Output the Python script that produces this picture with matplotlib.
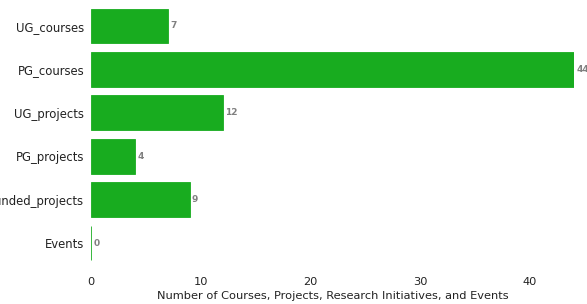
import matplotlib
matplotlib.use("Agg")
import matplotlib.pyplot as plt

categories = ["UG_courses", "PG_courses", "UG_projects", "PG_projects", "Funded_projects", "Events"]
values = [7, 44, 12, 4, 9, 0]
xticks = [0, 10, 20, 30, 40]
xlabel = "Number of Courses, Projects, Research Initiatives, and Events"

fig = plt.figure(figsize=(5.87, 3.04), dpi=100)
ax = fig.add_axes([91/587, 1 - 273/304, (574-91)/587, (273+4)/304])

ypos = list(range(len(categories)))
bars = ax.barh(ypos, values, height=0.8, color="#18ac1f", edgecolor="#18ac1f", linewidth=0.6)
ax.set_ylim(5.69, -0.69)
ax.set_xlim(0, 44)
ax.set_yticks(ypos)
ax.set_yticklabels(categories, fontsize=8.4, color="#222222")
ax.set_xticks(xticks)
ax.set_xticklabels([str(t) for t in xticks], fontsize=8.2, color="#222222")
ax.tick_params(length=0, pad=5)
ax.tick_params(axis="x", pad=3)
ax.set_xlabel(xlabel, fontsize=8.2, labelpad=3, color="#222222")
for s in ax.spines.values():
    s.set_visible(False)
for b, v in zip(bars, values):
    ax.text(b.get_width() + 0.2, b.get_y() + b.get_height()/2, str(v),
            va="center", ha="left", fontsize=6.5, color="#808080", fontweight="bold", clip_on=False)

fig.savefig("out.png", dpi=100)
